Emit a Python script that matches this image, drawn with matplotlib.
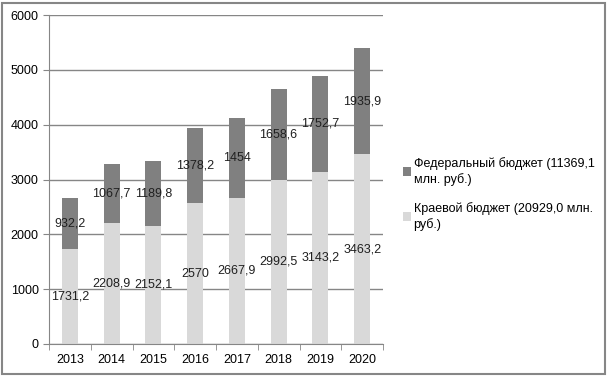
import numpy as np
import matplotlib.pyplot as plt
from matplotlib.patches import Rectangle

# данные
years = ['2013', '2014', '2015', '2016', '2017', '2018', '2019', '2020']
kraevoi = [1731.2, 2208.9, 2152.1, 2570, 2667.9, 2992.5, 3143.2, 3463.2]
federal = [932.2, 1067.7, 1189.8, 1378.2, 1454, 1658.6, 1752.7, 1935.9]
kraevoi_lbl = ['1731,2', '2208,9', '2152,1', '2570', '2667,9', '2992,5', '3143,2', '3463,2']
federal_lbl = ['932,2', '1067,7', '1189,8', '1378,2', '1454', '1658,6', '1752,7', '1935,9']

plt.rcParams['font.family'] = ['Liberation Sans', 'DejaVu Sans']

fig = plt.figure(figsize=(6.09, 3.79), dpi=100)
ax = fig.add_axes([49 / 609, 35 / 379, 334 / 609, 329 / 379])

x = np.arange(len(years))
ax.bar(x, kraevoi, width=0.38, color='#d9d9d9', zorder=2,
       label='Краевой бюджет (20929,0 млн.\nруб.)')
ax.bar(x, federal, width=0.38, bottom=kraevoi, color='#808080', zorder=2,
       label='Федеральный бюджет (11369,1\nмлн. руб.)')

for i in range(len(years)):
    ax.text(x[i], kraevoi[i] / 2, kraevoi_lbl[i], ha='center', va='center',
            fontsize=9, color='#202020', zorder=3)
    ax.text(x[i], kraevoi[i] + federal[i] / 2, federal_lbl[i], ha='center',
            va='center', fontsize=9, color='#202020', zorder=3)

ax.set_xlim(-0.5, len(years) - 0.5)
ax.set_ylim(0, 6000)
ax.set_yticks(range(0, 6001, 1000))
ax.set_xticks(x)
ax.set_xticklabels(years)
ax.set_xticks(np.arange(-0.5, len(years), 1), minor=True)
ax.tick_params(axis='x', which='major', length=0, labelsize=9, pad=7)
ax.tick_params(axis='x', which='minor', length=4, color='#868686')
ax.tick_params(axis='y', length=4, color='#868686', labelsize=9)
ax.yaxis.grid(True, color='#868686', linewidth=1, zorder=0)
for s in ['top', 'right']:
    ax.spines[s].set_visible(False)
for s in ['left', 'bottom']:
    ax.spines[s].set_color('#868686')

handles, labels = ax.get_legend_handles_labels()
leg = fig.legend(handles[::-1], labels[::-1], loc='upper left',
                 bbox_to_anchor=(403 / 609, 1 - 157 / 379), frameon=False,
                 fontsize=9, handlelength=0.65, handleheight=0.65,
                 handletextpad=0.2, labelspacing=1.3, borderpad=0,
                 borderaxespad=0)
for t in leg.get_texts():
    t.set_linespacing(1.3)

fig.patches.append(Rectangle((2 / 609, 5 / 379), 603 / 609, 371 / 379,
                             transform=fig.transFigure, fill=False,
                             edgecolor='#868686', linewidth=1.5))

fig.savefig('out.png', dpi=100)
